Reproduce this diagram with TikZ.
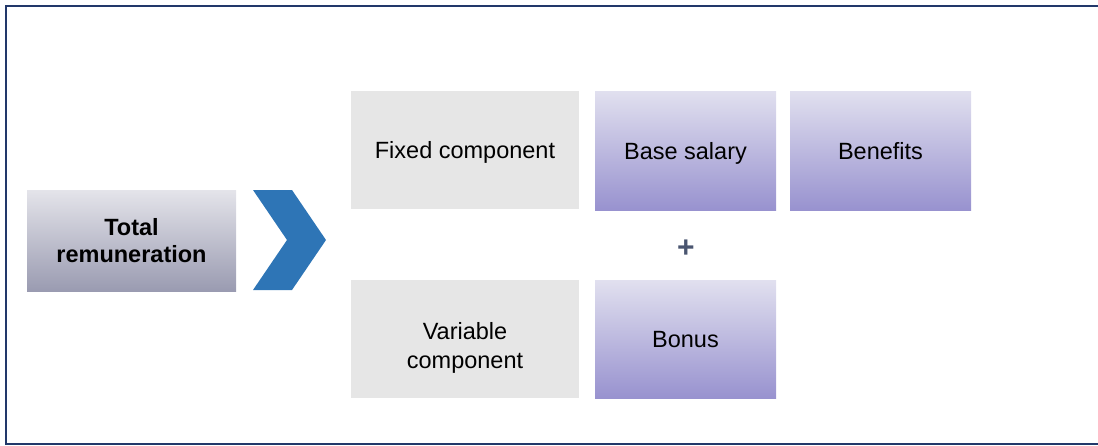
\documentclass[tikz,border=0pt]{standalone}
\usepackage{fontspec}
\setmainfont{Liberation Sans}
\definecolor{framecol}{HTML}{22386A}
\definecolor{chevroncol}{HTML}{2E75B6}
\definecolor{greybox}{HTML}{E6E6E6}
\definecolor{plusgrey}{HTML}{4A5570}
\definecolor{totaltop}{HTML}{E4E4EA}
\definecolor{totalbottom}{HTML}{9A9BB1}
\definecolor{itemtop}{HTML}{E1E0EF}
\definecolor{itembottom}{HTML}{9892CF}
\begin{document}
\begin{tikzpicture}[x=1pt,y=-1pt,
    every node/.style={font=\fontsize{23.5}{27.5}\selectfont,align=center,inner sep=0pt},
    oneline/.style={text height=17pt,text depth=0pt},
    totalbox/.style={top color=totaltop,bottom color=totalbottom,
        minimum width=209pt,minimum height=101pt,font=\fontsize{23.5}{27.5}\selectfont\bfseries},
    partbox/.style={fill=greybox,minimum width=228pt,minimum height=118pt},
    itembox/.style={top color=itemtop,bottom color=itembottom,
        minimum width=181pt,minimum height=119pt,oneline}]
    \useasboundingbox (0,0) rectangle (1098,445);
    % outer frame, open on the right
    \draw[framecol,line width=1.5pt] (1100,6) -- (6,6) -- (6,444) -- (1100,444);
    \node[totalbox] (total) at (131.5,240.5) {Total\\remuneration};
    % chevron
    \fill[chevroncol] (253,190) -- (292,190) -- (326,240) -- (292,290) -- (253,290) -- (287,240) -- cycle;
    \node[partbox,oneline] (fixed) at (465,150) {Fixed component};
    \node[partbox,label={[yshift=-9pt,font=\fontsize{23.5}{28.5}\selectfont]center:{Variable\\component}}]
        (variable) at (465,339) {};
    \node[itembox] (salary) at (685.5,150.5) {Base salary};
    \node[itembox] (benefits) at (880.5,150.5) {Benefits};
    \node[itembox,minimum height=118pt] (bonus) at (685.5,339) {Bonus};
    \node[text=plusgrey,font=\fontsize{30}{30}\selectfont\bfseries] (plus) at (686,249) {+};
\end{tikzpicture}
\end{document}
